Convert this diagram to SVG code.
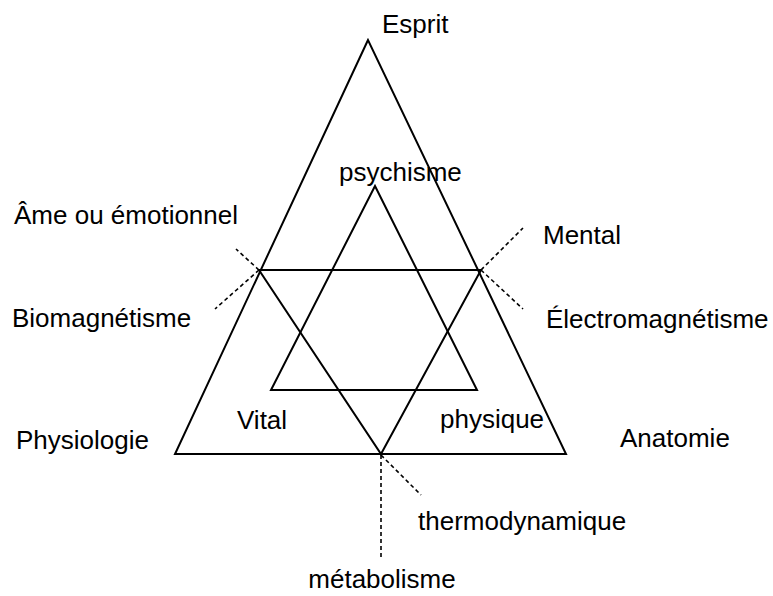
<svg xmlns="http://www.w3.org/2000/svg" width="773" height="596" viewBox="0 0 773 596">
<style>
.s{fill:none;stroke:#000;stroke-width:2;stroke-linejoin:miter}
.d{fill:none;stroke:#000;stroke-width:1.6;stroke-dasharray:4,3}
text{font-family:"Liberation Sans",Arial,sans-serif;font-size:26px;fill:#000}
</style>
<rect width="773" height="596" fill="#fff"/>
<g id="shapes">
<polygon id="grand-triangle" class="s" points="368,40 175,454 566,454"/>
<polygon id="triangle-inverse" class="s" points="259,270 481,270 381,454"/>
<polygon id="triangle-interieur" class="s" points="375,186 271,390 477,390"/>
</g>
<g id="connectors">
<line class="d" x1="259" y1="270" x2="236" y2="249"/>
<line class="d" x1="259" y1="270" x2="215" y2="309"/>
<line class="d" x1="481" y1="270" x2="523" y2="228"/>
<line class="d" x1="481" y1="270" x2="523" y2="309"/>
<line class="d" x1="381" y1="455" x2="381" y2="560"/>
<line class="d" x1="381" y1="455" x2="421" y2="495"/>
</g>
<g id="labels">
<text x="382" y="33">Esprit</text>
<text x="339" y="181">psychisme</text>
<text x="14" y="224">Âme ou émotionnel</text>
<text x="543" y="244">Mental</text>
<text x="12" y="327">Biomagnétisme</text>
<text x="546" y="328">Électromagnétisme</text>
<text x="237" y="429">Vital</text>
<text x="440" y="428">physique</text>
<text x="16" y="449">Physiologie</text>
<text x="620" y="447">Anatomie</text>
<text x="418" y="530">thermodynamique</text>
<text x="382" y="588" text-anchor="middle">métabolisme</text>
</g>
</svg>
